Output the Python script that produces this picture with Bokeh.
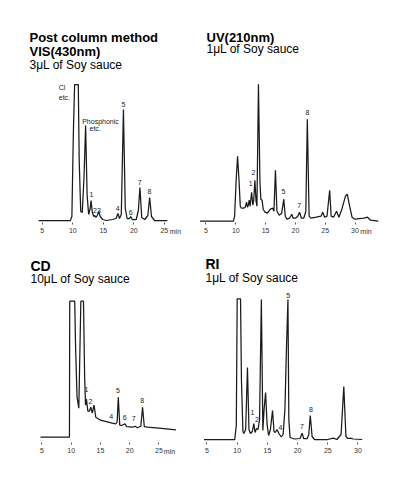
from bokeh.plotting import figure
from bokeh.layouts import row, column
from bokeh.models import Range1d, Label, FixedTicker, ColumnDataSource
from bokeh.embed import file_html
from bokeh.resources import INLINE
from bokeh.core.properties import value

# ---------------- data (retention time in min, relative signal) ----------------
# Post column method VIS(430nm)
vis_t = [4.4, 9.6, 9.85, 10.1, 10.3, 10.9, 11.05, 11.3, 11.55, 11.85,
         12.1, 12.35, 12.6, 12.85, 13.0, 13.2, 13.45, 13.6, 13.8, 14.0,
         14.25, 14.5, 14.9, 15.5, 16.5, 17.1, 17.4, 17.65, 17.95, 18.3,
         18.6, 18.9, 19.3, 19.5, 19.75, 20.4, 20.75, 21.0, 21.3, 21.8,
         22.3, 22.6, 22.9, 23.4, 25.5]
vis_h = [0, 0, 4, 90, 136, 136, 60, 9, 8, 45,
         95, 25, 6, 12, 20, 8, 4, 5, 3, 5,
         9, 4, 1, 0, 1, 2, 7, 2, 6, 111,
         12, 2, 2, 4, 1, 1, 10, 33, 3, 1,
         5, 23, 4, 0, 0]
vis_num = ["1", "23", "4", "5", "6", "7", "8"]
vis_num_t = [13.05, 13.97, 17.38, 18.31, 19.51, 20.98, 22.57]
vis_num_h = [24, 8, 10, 114, 6, 36, 27]
vis_word = ["Cl", "etc.", "Phosphonic", "etc."]
vis_word_t = [7.7, 7.7, 11.54, 12.74]
vis_word_h = [137, 127, 103, 96]

# UV(210nm)
uv_t = [4.0, 9.6, 9.8, 10.05, 10.3, 10.55, 10.75, 10.95, 11.3, 11.6,
        11.8, 11.95, 12.1, 12.25, 12.4, 12.65, 12.85, 13.0, 13.2, 13.4,
        13.55, 13.8, 14.05, 14.2, 14.4, 14.6, 14.9, 15.3, 15.8, 16.2,
        16.4, 16.65, 16.9, 17.3, 17.7, 18.05, 18.3, 18.6, 19.0, 19.4,
        19.6, 20.0, 20.4, 20.7, 21.0, 21.4, 21.75, 22.0, 22.3, 22.6,
        23.5, 24.3, 24.6, 24.9, 25.3, 25.75, 26.0, 26.4, 26.9, 27.3,
        27.8, 28.4, 28.7, 29.1, 29.5, 30.0, 31.5, 32.1, 32.6, 33.9]
uv_h = [0, 0, 5, 40, 65, 40, 15, 13, 13, 14,
        19, 14, 16, 21, 15, 29, 16, 20, 41, 20,
        15, 137, 40, 22, 21, 12, 9, 8, 12, 13,
        10, 51, 10, 6, 8, 22, 5, 2, 3, 7,
        3, 3, 5, 9, 3, 3, 10, 102, 5, 3,
        4, 5, 9, 4, 5, 31, 5, 4, 10, 4,
        12, 25, 27, 15, 4, 2, 3, 4, 1, 0]
uv_num = ["1", "2", "5", "7", "8"]
uv_num_t = [12.52, 12.97, 18.0, 20.63, 22.03]
uv_num_h = [35, 46, 27, 13, 106]

# CD
cd_t = [4.75, 9.7, 9.75, 10.6, 10.75, 11.0, 11.3, 11.5, 11.65, 12.1,
        12.3, 12.45, 12.6, 12.85, 13.1, 13.35, 13.6, 13.9, 14.2, 15.0,
        16.0, 17.0, 17.6, 17.85, 18.05, 18.3, 18.6, 19.2, 19.5, 20.5,
        20.9, 21.3, 21.9, 22.2, 22.5, 23.0, 25.0, 27.9]
cd_h = [0, 0, 136, 136, 90, 40, 29, 90, 136, 136,
        60, 32, 38, 26, 26, 30, 24, 32, 20, 17,
        15.5, 14, 13.4, 15, 40, 12, 11.7, 13.4, 10.5, 10,
        11, 9.5, 11, 30, 10.5, 10, 9, 7.4]
cd_num = ["1", "2", "4", "5", "6", "7", "8"]
cd_num_t = [12.62, 13.3, 16.84, 17.97, 19.16, 20.7, 22.14]
cd_num_h = [45, 33, 18, 44, 17, 16, 34]

# RI
ri_t = [4.5, 9.6, 9.7, 9.85, 10.0, 10.55, 10.7, 10.95, 11.1, 11.4,
        11.7, 11.95, 12.2, 12.5, 12.75, 12.95, 13.2, 13.45, 13.7, 14.0,
        14.25, 14.45, 14.7, 14.95, 15.2, 15.5, 15.85, 16.1, 16.3, 16.6,
        16.9, 17.3, 17.6, 17.9, 18.15, 18.4, 18.55, 18.75, 19.5, 20.4,
        20.75, 21.0, 21.6, 21.85, 22.1, 22.4, 22.8, 25.0, 25.9, 26.5,
        27.2, 27.65, 28.0, 28.3, 28.75, 29.2, 30.7]
ri_h = [0, 0, 6, 14, 140.7, 140.7, 60, 8, 6, 10,
        72, 10, 6, 8, 16, 7, 11, 10, 20, 140,
        9, 30, 47, 15, 4, 10, 29, 8, 7, 10,
        6, 2.5, 5, 30, 90, 140, 20, 2, 0.5, 1,
        6.3, 1, 1, 5, 24, 3, 0, 0, 1.3, 0,
        5, 53, 3, 1, 1.3, 0.5, 0]
ri_num = ["1", "2", "4", "5", "7", "8"]
ri_num_t = [12.53, 13.25, 17.17, 18.44, 20.7, 22.19]
ri_num_h = [25, 18, 10, 142, 11, 28]

ticks_25 = [5, 10, 15, 20, 25]
ticks_30 = [5, 10, 15, 20, 25, 30]

FONT = "Liberation Sans"
LINE = "#1a1a1a"


def panel(w, h, xr, yr, axis_at, ticks, t, sig, num, num_t, num_h, titles, subtitle,
          min_x=None, words=None):
    p = figure(width=w, height=h, x_range=Range1d(*xr), y_range=Range1d(*yr),
               output_backend="svg", toolbar_location=None, y_axis_location=None,
               min_border_left=0, min_border_right=0, min_border_top=0,
               min_border_bottom=0)
    p.outline_line_color = None
    p.grid.visible = False
    p.background_fill_color = "white"
    p.border_fill_color = "white"
    ax = p.xaxis[0]
    ax.fixed_location = axis_at
    ax.ticker = FixedTicker(ticks=ticks)
    ax.axis_line_color = None
    ax.major_tick_in = 0
    ax.major_tick_out = 2
    ax.minor_tick_in = 0
    ax.minor_tick_out = 0
    ax.major_tick_line_color = "#555555"
    ax.major_label_standoff = 3
    ax.major_label_text_font = FONT
    ax.major_label_text_font_size = "7px"
    ax.major_label_text_color = "#333333"

    p.line(t, sig, line_color=LINE, line_width=1.25)

    src = ColumnDataSource(dict(x=num_t, y=num_h, text=num))
    p.text(x="x", y="y", text="text", source=src, text_font=value(FONT),
           text_font_size="7px", text_color="#222222", text_align="center",
           text_baseline="bottom")
    if words is not None:
        wsrc = ColumnDataSource(dict(x=words[1], y=words[2], text=words[0]))
        p.text(x="x", y="y", text="text", source=wsrc, text_font=value(FONT),
               text_font_size="7px", text_color="#222222", text_align="left",
               text_baseline="top")

    for (tx, ty, txt, size) in titles:
        p.add_layout(Label(x=tx, y=ty, x_units="screen", y_units="screen", text=txt,
                           text_font=FONT, text_font_size=size, text_font_style="bold",
                           text_color="#000000", text_baseline="alphabetic"))
    sx, sy, stxt = subtitle
    p.add_layout(Label(x=sx, y=sy, x_units="screen", y_units="screen", text=stxt,
                       text_font=FONT, text_font_size="12px", text_color="#000000",
                       text_baseline="alphabetic"))
    if min_x is not None:
        p.add_layout(Label(x=min_x, y=axis_at, x_units="data", y_units="data", text="min",
                           y_offset=-5, text_font=FONT, text_font_size="7px",
                           text_color="#333333", text_baseline="top", text_align="left"))
    return p


p1 = panel(198, 242, (-1.852, 30.607), (-22, 220), -2, ticks_25, vis_t, vis_h,
           vis_num, vis_num_t, vis_num_h,
           [(29, 205, "Post column method", "13px"), (29, 191, "VIS(430nm)", "13px")],
           (29, 178, "3μL of Soy sauce"), min_x=25.9,
           words=(vis_word, vis_word_t, vis_word_h))
p2 = panel(190, 242, (3.742, 35.62), (-21.3, 220.7), -1.3, ticks_30, uv_t, uv_h,
           uv_num, uv_num_t, uv_num_h,
           [(8, 205, "UV(210nm)", "13px")],
           (8, 194, "1μL of Soy sauce"), min_x=30.9)
p3 = panel(198, 220, (-2.085, 31.76), (-25.3, 194.7), -5.3, ticks_25, cd_t, cd_h,
           cd_num, cd_num_t, cd_num_h,
           [(30, 197, "CD", "14px")],
           (30, 184, "10μL of Soy sauce"), min_x=25.83)
p4 = panel(190, 220, (3.593, 35.05), (-23, 197), -3, ticks_30, ri_t, ri_h,
           ri_num, ri_num_t, ri_num_h,
           [(7, 199, "RI", "14px")],
           (7, 185, "1μL of Soy sauce"))

layout = column(row(p1, p2), row(p3, p4))
open("out.html", "w").write(file_html(layout, INLINE))
